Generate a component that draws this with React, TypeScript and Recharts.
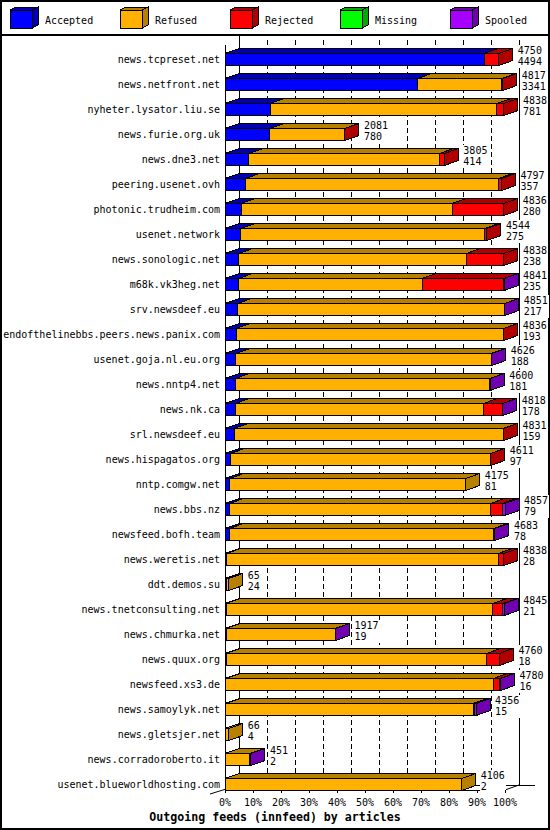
import React from "react";
import { Bar, BarChart, CartesianGrid, XAxis, YAxis } from "recharts";

const HOSTS = [
  "news.tcpreset.net",
  "news.netfront.net",
  "nyheter.lysator.liu.se",
  "news.furie.org.uk",
  "news.dne3.net",
  "peering.usenet.ovh",
  "photonic.trudheim.com",
  "usenet.network",
  "news.sonologic.net",
  "m68k.vk3heg.net",
  "srv.newsdeef.eu",
  "endofthelinebbs.peers.news.panix.com",
  "usenet.goja.nl.eu.org",
  "news.nntp4.net",
  "news.nk.ca",
  "srl.newsdeef.eu",
  "news.hispagatos.org",
  "nntp.comgw.net",
  "news.bbs.nz",
  "newsfeed.bofh.team",
  "news.weretis.net",
  "ddt.demos.su",
  "news.tnetconsulting.net",
  "news.chmurka.net",
  "news.quux.org",
  "newsfeed.xs3.de",
  "news.samoylyk.net",
  "news.gletsjer.net",
  "news.corradoroberto.it",
  "usenet.blueworldhosting.com",
];

const TOTAL = [
  4750, 4817, 4838, 2081, 3805, 4797, 4836, 4544, 4838, 4841, 4851, 4836, 4626, 4600, 4818,
  4831, 4611, 4175, 4857, 4683, 4838, 65, 4845, 1917, 4760, 4780, 4356, 66, 451, 4106,
];
const ACCEPTED = [
  4494, 3341, 781, 780, 414, 357, 280, 275, 238, 235, 217, 193, 188, 181, 178,
  159, 97, 81, 79, 78, 28, 24, 21, 19, 18, 16, 15, 4, 2, 2,
];
const REFUSED = [
  0, 1461, 3936, 1295, 3306, 4388, 3660, 4229, 3950, 3185, 4630, 4638, 4430, 4411, 4305,
  4667, 4509, 4094, 4528, 4580, 4715, 41, 4625, 1893, 4520, 4640, 4290, 62, 429, 4104,
];
const REJECTED = [
  256, 15, 121, 6, 85, 52, 896, 40, 650, 1415, 0, 5, 0, 0, 330,
  5, 5, 0, 205, 0, 95, 0, 175, 0, 222, 110, 22, 0, 0, 0,
];
const MISSING = [
  0, 0, 0, 0, 0, 0, 0, 0, 0, 0, 0, 0, 0, 0, 0,
  0, 0, 0, 0, 0, 0, 0, 0, 0, 0, 0, 0, 0, 0, 0,
];
const SPOOLED = [
  0, 0, 0, 0, 0, 0, 0, 0, 0, 6, 4, 0, 8, 8, 5,
  0, 0, 0, 45, 25, 0, 0, 24, 5, 0, 14, 29, 0, 20, 0,
];
const TICK_PCT = [0, 10, 20, 30, 40, 50, 60, 70, 80, 90, 100];

const SERIES = [
  { key: "accepted", name: "Accepted", front: "#0000ff", dark: "#0000b0" },
  { key: "refused", name: "Refused", front: "#ffb000", dark: "#b88000" },
  { key: "rejected", name: "Rejected", front: "#ff0000", dark: "#b00000" },
  { key: "missing", name: "Missing", front: "#00ff00", dark: "#00a800" },
  { key: "spooled", name: "Spooled", front: "#a800ff", dark: "#7000b0" },
];

const data = HOSTS.map((host, i) => ({
  host,
  total: TOTAL[i],
  accepted: ACCEPTED[i],
  refused: REFUSED[i],
  rejected: REJECTED[i],
  missing: MISSING[i],
  spooled: SPOOLED[i],
}));

const MAX = Math.max(...TOTAL);
const TICKS = TICK_PCT.map((p) => (MAX * p) / 100);

const W = 550;
const H = 830;
const FONT = "'DejaVu Sans Mono', monospace";
const LEFT = 225;
const RIGHT = 505;
const TOP = 46.5;
const BAND = 25;
const BAR = 12;
const DX = 14;
const DY = 5;
const FRONT_BOTTOM = TOP + BAND * HOSTS.length - (BAND - BAR) / 2;
const BACK_TOP = TOP - 6.5;
const BACK_BOTTOM = FRONT_BOTTOM - DY;

// one stacked segment drawn as a 3D block; the last non-empty one gets the side face and the counts
const makeShape = (idx: number) => (props: any) => {
  const { x, y, width, height } = props;
  const row = props.payload ?? props;
  if (!(width > 0) || !(height > 0)) return <g />;
  const s = SERIES[idx];
  let last = -1;
  SERIES.forEach((t, j) => {
    if (row[t.key] > 0) last = j;
  });
  const isLast = idx === last;
  const x2 = x + width;
  const cy = y + height / 2;
  const lines = [String(row.total), String(row.accepted)];
  const len = Math.max(...lines.map((l) => l.length));
  const tx = x2 + DX + 5;
  return (
    <g shapeRendering="crispEdges">
      <polygon
        points={`${x},${y} ${x + DX},${y - DY} ${x2 + DX},${y - DY} ${x2},${y}`}
        fill={s.dark}
        stroke="#000"
        strokeWidth={1}
      />
      <rect x={x} y={y} width={width} height={height} fill={s.front} stroke="#000" strokeWidth={1} />
      {isLast && (
        <>
          <polygon
            points={`${x2},${y} ${x2 + DX},${y - DY} ${x2 + DX},${y + height - DY} ${x2},${y + height}`}
            fill={s.dark}
            stroke="#000"
            strokeWidth={1}
          />
          <rect x={tx - 1} y={cy - 15} width={len * 6 + 2} height={23} fill="#fff" />
          <text x={tx} y={cy - 5.5} fontFamily={FONT} fontSize={10} fill="#000">
            {lines[0]}
          </text>
          <text x={tx} y={cy + 5.5} fontFamily={FONT} fontSize={10} fill="#000">
            {lines[1]}
          </text>
        </>
      )}
    </g>
  );
};

const XTick = (props: any) => {
  const { x, index } = props;
  return (
    <g shapeRendering="crispEdges">
      <line x1={x} y1={FRONT_BOTTOM} x2={x} y2={FRONT_BOTTOM + 3} stroke="#000" />
      <text x={x} y={806} textAnchor="middle" fontFamily={FONT} fontSize={10} fill="#000">
        {`${TICK_PCT[index]}%`}
      </text>
    </g>
  );
};

const gridLine = (p: any) => {
  const k = `g-${p.index}`;
  if (Math.abs(p.x1 - LEFT) < 1 || Math.abs(p.x1 - RIGHT) < 1) return <g key={k} />;
  const x = p.x1 + DX;
  return (
    <line
      key={k}
      x1={x}
      y1={BACK_TOP}
      x2={x}
      y2={BACK_BOTTOM}
      stroke="#000"
      strokeDasharray="5 3"
      shapeRendering="crispEdges"
    />
  );
};

const Frame = () => (
  <svg
    width={W}
    height={H}
    style={{ position: "absolute", left: 0, top: 0 }}
    shapeRendering="crispEdges"
  >
    <rect x={0} y={0} width={W} height={H} fill="#fff" />
    <rect x={1} y={1} width={W - 2} height={H - 2} fill="none" stroke="#000" strokeWidth={2} />
    <line x1={0} y1={35} x2={W} y2={35} stroke="#000" strokeWidth={1.5} />
    {SERIES.map((s, i) => {
      const lx = 10 + 110 * i;
      return (
        <g key={s.key}>
          <polygon
            points={`${lx},10 ${lx + 6},7 ${lx + 28},7 ${lx + 22},10`}
            fill={s.dark}
            stroke="#000"
          />
          <polygon
            points={`${lx + 22},10 ${lx + 28},7 ${lx + 28},25 ${lx + 22},28`}
            fill={s.dark}
            stroke="#000"
          />
          <rect x={lx} y={10} width={22} height={18} fill={s.front} stroke="#000" />
          <text x={lx + 35} y={23.5} fontFamily={FONT} fontSize={10} fill="#000">
            {s.name}
          </text>
        </g>
      );
    })}
    <line x1={LEFT + DX} y1={BACK_TOP - 4} x2={LEFT + DX} y2={BACK_BOTTOM} stroke="#000" />
    <line x1={RIGHT + DX} y1={BACK_TOP} x2={RIGHT + DX} y2={BACK_BOTTOM} stroke="#000" />
    <line x1={LEFT + DX} y1={BACK_BOTTOM} x2={535} y2={BACK_BOTTOM} stroke="#000" />
    <line x1={LEFT} y1={TOP - 1.5} x2={LEFT} y2={FRONT_BOTTOM} stroke="#000" />
    <line x1={LEFT} y1={FRONT_BOTTOM} x2={RIGHT} y2={FRONT_BOTTOM} stroke="#000" />
    <line
      x1={LEFT + DX}
      y1={BACK_BOTTOM}
      x2={LEFT - 15}
      y2={FRONT_BOTTOM + 4}
      stroke="#000"
      shapeRendering="auto"
    />
    <line
      x1={RIGHT + DX}
      y1={BACK_BOTTOM}
      x2={RIGHT}
      y2={FRONT_BOTTOM}
      stroke="#000"
      shapeRendering="auto"
    />
    <text
      x={W / 2}
      y={821}
      textAnchor="middle"
      fontFamily={FONT}
      fontWeight="bold"
      fontSize={11.6}
      fill="#000"
    >
      Outgoing feeds (innfeed) by articles
    </text>
  </svg>
);

export default function App() {
  return (
    <div style={{ position: "absolute", left: 0, top: 0, width: W, height: H }}>
      <Frame />
      <div style={{ position: "absolute", left: 0, top: 0 }}>
        <BarChart
          width={W}
          height={H}
          data={data}
          layout="vertical"
          barSize={BAR}
          margin={{ top: TOP, right: W - RIGHT, bottom: 0, left: 0 }}
          style={{ overflow: "visible" }}
        >
          <CartesianGrid horizontal={false} vertical={gridLine} />
          <XAxis
            type="number"
            domain={[0, MAX]}
            ticks={TICKS}
            interval={0}
            axisLine={false}
            tickLine={false}
            tick={<XTick />}
            height={H - TOP - BAND * HOSTS.length}
          />
          <YAxis
            type="category"
            dataKey="host"
            width={LEFT}
            interval={0}
            axisLine={false}
            tickLine={false}
            tickSize={0}
            tickMargin={5}
            tick={{ fontSize: 10, fontFamily: FONT, fill: "#000" }}
          />
          {SERIES.map((s, i) => (
            <Bar
              key={s.key}
              dataKey={s.key}
              name={s.name}
              stackId="a"
              fill={s.front}
              shape={makeShape(i)}
              isAnimationActive={false}
            />
          ))}
        </BarChart>
      </div>
    </div>
  );
}
